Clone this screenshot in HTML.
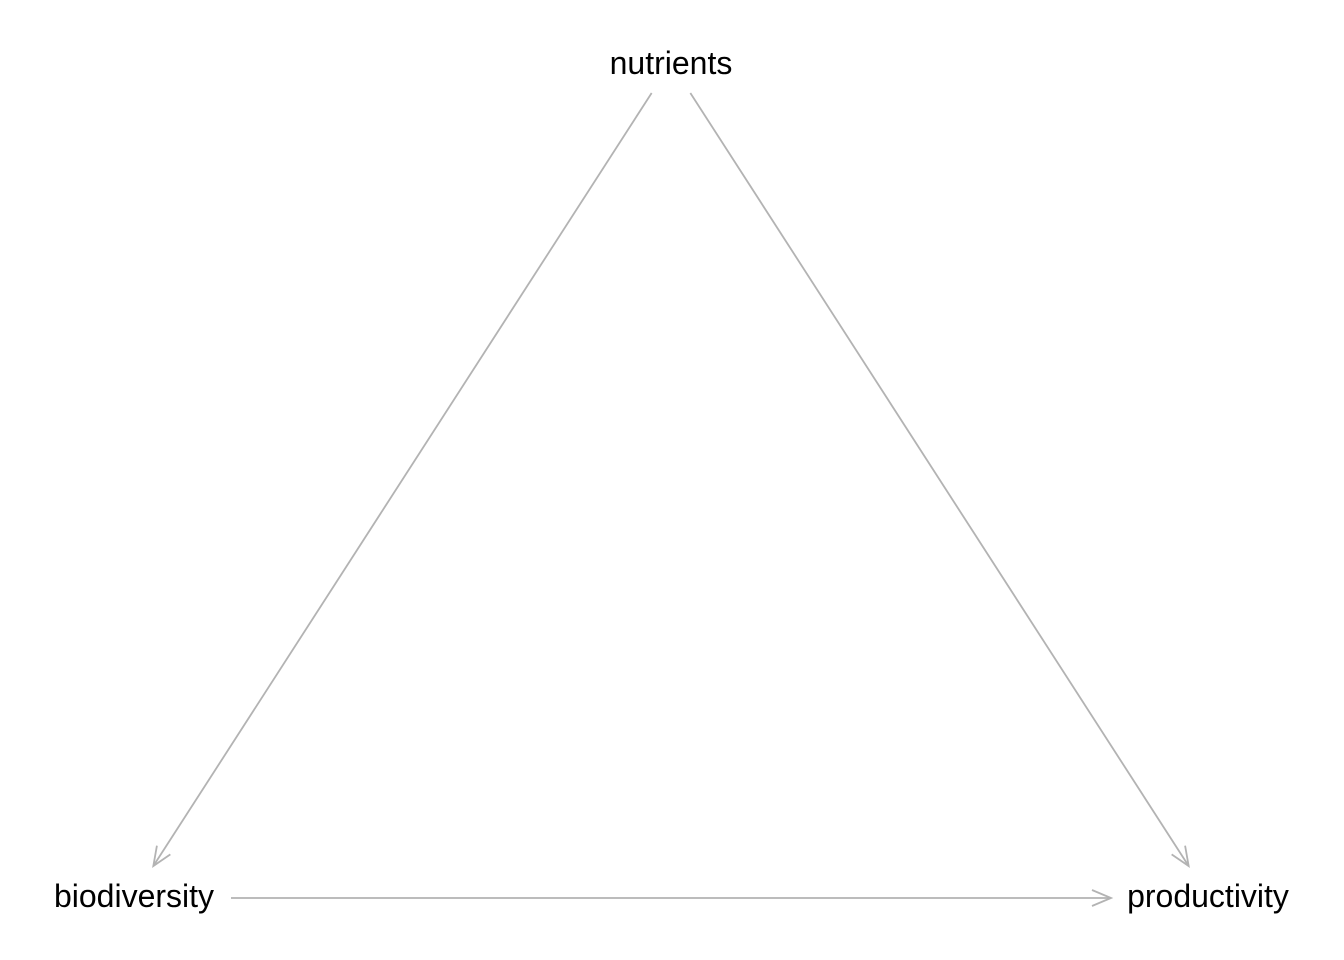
<!DOCTYPE html>
<html><head><meta charset="utf-8"><style>
html,body{margin:0;padding:0;background:#fff;width:1344px;height:960px;overflow:hidden}
text{font-family:"Liberation Sans",Arial,sans-serif;font-size:32px;fill:#000}
</style></head><body>
<svg id="chart" width="1344" height="960" viewBox="0 0 1344 960"></svg>
<script>
const nodeNames = ["nutrients", "biodiversity", "productivity"];
const nodeX = [0.5, 0, 1];
const nodeY = [1, 0, 0];
const edgeFrom = [0, 0, 1];
const edgeTo = [1, 2, 2];

const NS = "http://www.w3.org/2000/svg";
const svg = document.getElementById("chart");
const sx = v => 134 + v * (1208 - 134);
const sy = v => 896 - v * (896 - 63);
const pad = [ {dx:0,dy:30}, {dx:97,dy:0}, {dx:97,dy:0} ];

function shortenPts(a, b) {
  let x1 = sx(nodeX[a]), y1 = sy(nodeY[a]), x2 = sx(nodeX[b]), y2 = sy(nodeY[b]);
  const dx = x2 - x1, dy = y2 - y1, L = Math.hypot(dx, dy);
  const ux = dx / L, uy = dy / L;
  const trim = (i) => {
    if (Math.abs(uy) > 0.1) return 30 / Math.abs(uy);
    return pad[i].dx;
  };
  const t1 = trim(a), t2 = trim(b);
  const yo = Math.abs(uy) > 0.1 ? 0 : 2;
  return [x1 + ux * t1, y1 + uy * t1 + yo, x2 - ux * t2, y2 - uy * t2 + yo, ux, uy];
}

for (let i = 0; i < edgeFrom.length; i++) {
  const [x1, y1, x2, y2, ux, uy] = shortenPts(edgeFrom[i], edgeTo[i]);
  const g = document.createElementNS(NS, "g");
  
  
  const line = document.createElementNS(NS, "line");
  line.setAttribute("x1", x1); line.setAttribute("y1", y1);
  line.setAttribute("x2", x2); line.setAttribute("y2", y2);
  line.setAttribute("stroke", "#b3b3b3"); line.setAttribute("stroke-width", "1.8");
  g.appendChild(line);
  const L = 19, W = 8, px = -uy, py = ux;
  const bx = x2 - ux * L, by = y2 - uy * L;
  const head = document.createElementNS(NS, "polyline");
  head.setAttribute("points", `${bx + px * W},${by + py * W} ${x2},${y2} ${bx - px * W},${by - py * W}`);
  head.setAttribute("fill", "none"); head.setAttribute("stroke", "#b3b3b3"); head.setAttribute("stroke-width", "1.8");
  g.appendChild(head);
  svg.appendChild(g);
}

for (let i = 0; i < nodeNames.length; i++) {
  const t = document.createElementNS(NS, "text");
  
  
  t.setAttribute("x", sx(nodeX[i]));
  t.setAttribute("y", sy(nodeY[i]) + 11);
  t.setAttribute("text-anchor", "middle");
  t.textContent = nodeNames[i];
  svg.appendChild(t);
}
</script>
</body></html>
